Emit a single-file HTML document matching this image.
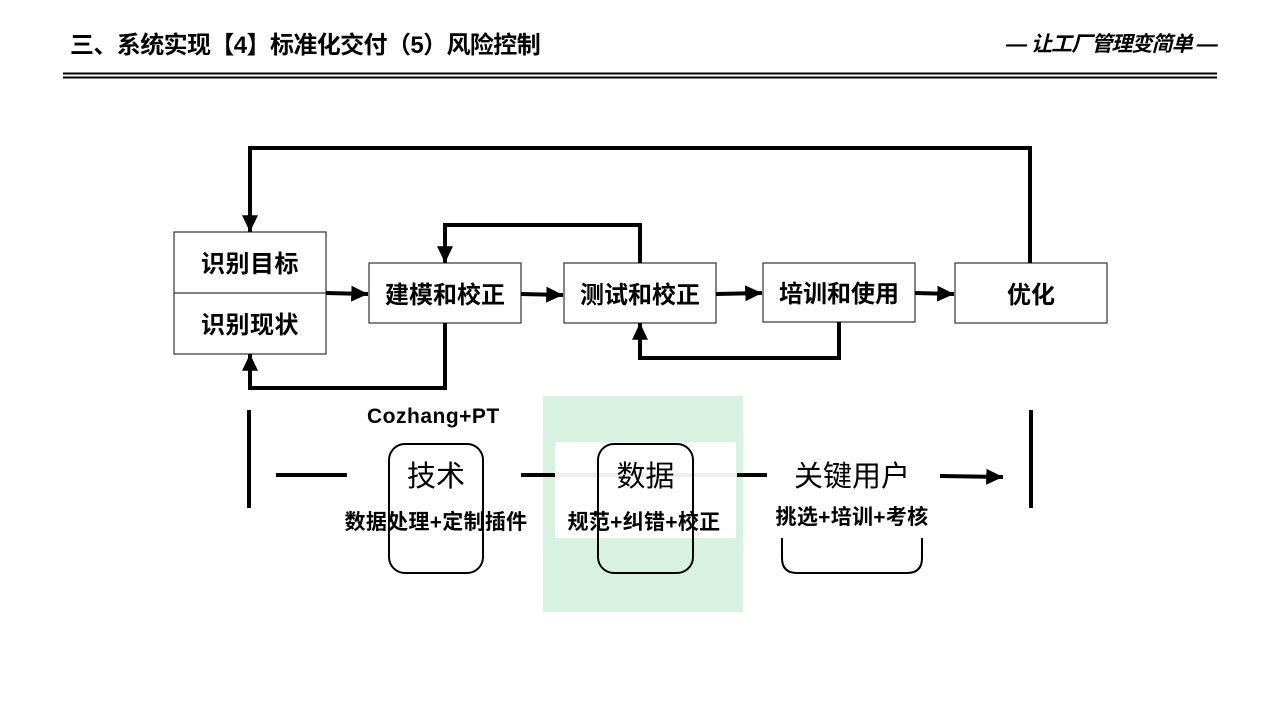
<!DOCTYPE html>
<html><head><meta charset="utf-8"><style>
body{margin:0;width:1280px;height:720px;background:#fff;position:relative;overflow:hidden;font-family:"Liberation Sans","Noto Sans CJK SC",sans-serif}
.t{position:absolute;white-space:nowrap;color:#000}
</style></head><body>
<div class="t" style="left:70px;top:25px;font-size:24px;font-weight:bold;letter-spacing:-0.6px">三、系统实现【4】标准化交付（5）风险控制</div>
<div class="t" style="left:1006px;top:28px;font-size:21px;font-weight:bold;font-style:italic;letter-spacing:-0.9px">— 让工厂管理变简单 —</div>
<svg width="1280" height="720" style="position:absolute;left:0;top:0">
<defs><marker id="a" markerWidth="4.2" markerHeight="4" refX="4.2" refY="2" orient="auto" markerUnits="strokeWidth"><path d="M0,0L4.2,2L0,4z" fill="#000"/></marker></defs>
<line x1="63" y1="73.5" x2="1217" y2="73.5" stroke="#000" stroke-width="2"/>
<line x1="63" y1="77.5" x2="1217" y2="77.5" stroke="#000" stroke-width="2"/>
<rect x="543" y="396" width="200" height="216" fill="#d8f2e2"/>
<rect x="555" y="442" width="181" height="96" fill="#fff"/>
<g fill="#fff" stroke="#333" stroke-width="1.2">
<rect x="174" y="232" width="152" height="122"/><line x1="174" y1="293" x2="326" y2="293"/>
<rect x="369" y="263" width="152" height="60"/>
<rect x="564" y="263" width="152" height="60"/>
<rect x="763" y="263" width="152" height="59"/>
<rect x="955" y="263" width="152" height="60"/>
</g>
<g fill="none" stroke="#000" stroke-width="4">
<polyline points="1030,263 1030,148 250,148 250,232" marker-end="url(#a)"/>
<polyline points="640,263 640,225 445,225 445,263" marker-end="url(#a)"/>
<polyline points="445,323 445,388 250,388 250,354" marker-end="url(#a)"/>
<polyline points="839,322 839,358 640,358 640,323" marker-end="url(#a)"/>
<line x1="326" y1="293" x2="368" y2="294" marker-end="url(#a)"/>
<line x1="521" y1="294" x2="563" y2="295" marker-end="url(#a)"/>
<line x1="716" y1="294" x2="762" y2="293" marker-end="url(#a)"/>
<line x1="915" y1="293" x2="954" y2="294" marker-end="url(#a)"/>
<line x1="249" y1="410" x2="249" y2="508"/>
<line x1="1031" y1="410" x2="1031" y2="508"/>
<line x1="276" y1="475" x2="347" y2="475"/>
<line x1="521" y1="475" x2="555" y2="475"/>
<line x1="737" y1="475" x2="767" y2="475"/>
<line x1="940" y1="476" x2="1003" y2="477" marker-end="url(#a)"/>
</g>
<line x1="555" y1="475" x2="736" y2="475" stroke="#eee" stroke-width="4"/>
<g fill="none" stroke="#000" stroke-width="2">
<rect x="389" y="444" width="94" height="129" rx="16"/>
<rect x="598" y="444" width="95" height="129" rx="16"/>
<path d="M782,538 V558 Q782,573 797,573 H907 Q922,573 922,558 V538"/>
</g>
</svg>
<div class="t" style="left:174px;top:244px;width:152px;text-align:center;font-size:24px;font-weight:bold;letter-spacing:0.5px">识别目标</div>
<div class="t" style="left:174px;top:305px;width:152px;text-align:center;font-size:24px;font-weight:bold;letter-spacing:0.5px">识别现状</div>
<div class="t" style="left:369px;top:275px;width:152px;text-align:center;font-size:24px;font-weight:bold">建模和校正</div>
<div class="t" style="left:564px;top:275px;width:152px;text-align:center;font-size:24px;font-weight:bold">测试和校正</div>
<div class="t" style="left:763px;top:274px;width:152px;text-align:center;font-size:24px;font-weight:bold">培训和使用</div>
<div class="t" style="left:955px;top:275px;width:152px;text-align:center;font-size:24px;font-weight:bold">优化</div>
<div class="t" style="left:367px;top:405px;font-size:21px;font-weight:bold;letter-spacing:0.5px">Cozhang+PT</div>
<div class="t" style="left:389px;top:453px;width:94px;text-align:center;font-size:29px">技术</div>
<div class="t" style="left:598px;top:453px;width:95px;text-align:center;font-size:29px">数据</div>
<div class="t" style="left:772px;top:453px;width:160px;text-align:center;font-size:29px">关键用户</div>
<div class="t" style="left:326px;top:506px;width:220px;text-align:center;font-size:21px;font-weight:bold;letter-spacing:0.3px">数据处理+定制插件</div>
<div class="t" style="left:534px;top:506px;width:220px;text-align:center;font-size:21px;font-weight:bold;letter-spacing:0.3px">规范+纠错+校正</div>
<div class="t" style="left:742px;top:501px;width:220px;text-align:center;font-size:21px;font-weight:bold;letter-spacing:0.3px">挑选+培训+考核</div>
</body></html>
